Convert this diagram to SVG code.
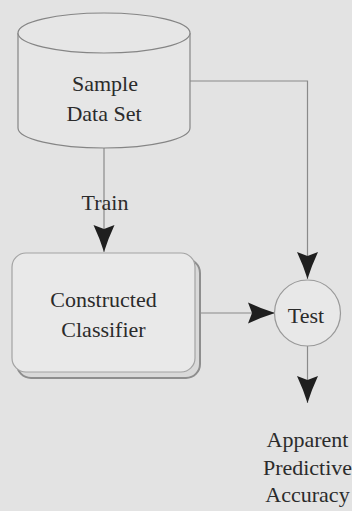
<svg xmlns="http://www.w3.org/2000/svg" width="352" height="511" viewBox="0 0 352 511">
  <style>
    .label { font-family: "Liberation Serif", "Times New Roman", serif; font-size: 22px; fill: #2b2b2b; text-anchor: middle; }
    .outline { fill: #e6e6e6; stroke: #858585; stroke-width: 1.2; }
    .wire { fill: none; stroke: #8a8a8a; stroke-width: 1.2; }
  </style>
  <defs>
    <marker id="arrow" viewBox="-28 -12 30 24" markerWidth="30" markerHeight="24" refX="0" refY="0" orient="auto" markerUnits="userSpaceOnUse">
      <path d="M0,0 Q-13,-4 -27,-10.5 L-23,0 L-27,10.5 Q-13,4 0,0 Z" fill="#1f1f1f"/>
    </marker>
  </defs>

  <rect x="0" y="0" width="352" height="511" fill="#e3e3e3"/>

  <!-- connectors -->
  <g id="connectors">
    <path class="wire" d="M104,148 V252" marker-end="url(#arrow)"/>
    <path class="wire" d="M190,81 H307.5 V279" marker-end="url(#arrow)"/>
    <path class="wire" d="M195,313 H275" marker-end="url(#arrow)"/>
    <path class="wire" d="M307.5,346 V403" marker-end="url(#arrow)"/>
  </g>

  <!-- data store cylinder -->
  <g id="sample-data-set">
    <path class="outline" d="M18,33 V128 A86,20 0 0 0 190,128 V33"/>
    <ellipse class="outline" cx="104" cy="33" rx="86" ry="20"/>
    <text class="label" x="105" y="91">Sample</text>
    <text class="label" x="104" y="121">Data Set</text>
  </g>

  <text class="label" x="105" y="210">Train</text>

  <!-- classifier box with stacked shadow -->
  <g id="constructed-classifier">
    <rect x="17" y="259" width="183" height="119" rx="14" fill="#d9d9d9" stroke="#8e8e8e" stroke-width="2"/>
    <rect x="12" y="253" width="183" height="119" rx="14" fill="#e9e9e9" stroke="#a3a3a3" stroke-width="1.2"/>
    <text class="label" x="103.5" y="307">Constructed</text>
    <text class="label" x="103.5" y="337">Classifier</text>
  </g>

  <g id="test">
    <circle cx="307.5" cy="313" r="33" fill="#e8e8e8" stroke="#999999" stroke-width="1.2"/>
    <text class="label" x="306" y="323">Test</text>
  </g>

  <g id="apparent-predictive-accuracy">
    <text class="label" x="307.5" y="447">Apparent</text>
    <text class="label" x="307.5" y="475">Predictive</text>
    <text class="label" x="307.5" y="502">Accuracy</text>
  </g>
</svg>
